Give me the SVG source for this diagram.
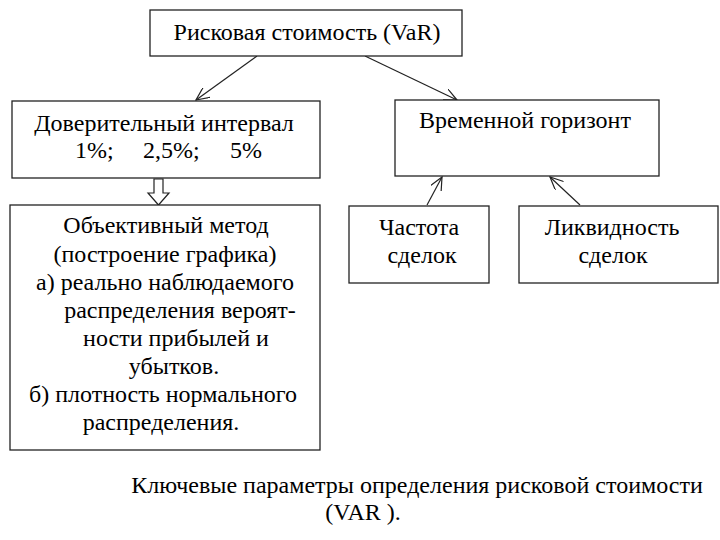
<svg xmlns="http://www.w3.org/2000/svg" width="720" height="540" viewBox="0 0 720 540">
<defs>
<marker id="a" viewBox="0 0 14 12" refX="13" refY="6" markerWidth="14" markerHeight="12" markerUnits="userSpaceOnUse" orient="auto">
<path d="M0,0 L13,6 L0,12" fill="none" stroke="#222" stroke-width="1.2"/>
</marker>
</defs>
<rect width="720" height="540" fill="#fff"/>
<g id="connectors" stroke="#222" stroke-width="1.2" fill="none">
<line x1="257" y1="56" x2="196" y2="100" marker-end="url(#a)"/>
<line x1="365" y1="56" x2="457" y2="100" marker-end="url(#a)"/>
<line x1="427" y1="205" x2="442" y2="177" marker-end="url(#a)"/>
<line x1="580" y1="205" x2="550" y2="177" marker-end="url(#a)"/>
<path d="M154,179 L163,179 L163,193 L169,193 L158.5,205 L148,193 L154,193 Z"/>
</g>
<g id="node-var">
<rect x="150" y="10" width="312" height="46" fill="#fff" stroke="#222" stroke-width="1.3"/>
<text font-family="Liberation Serif" font-size="24" text-anchor="middle" x="307" y="40">Рисковая стоимость (VaR)</text>
</g>
<g id="node-interval">
<rect x="12" y="101" width="308" height="77" fill="#fff" stroke="#222" stroke-width="1.3"/>
<text font-family="Liberation Serif" font-size="24" text-anchor="middle" x="164" y="131">Доверительный интервал</text>
<text font-family="Liberation Serif" font-size="24" x="75" y="158">1%;</text>
<text font-family="Liberation Serif" font-size="24" x="143" y="158">2,5%;</text>
<text font-family="Liberation Serif" font-size="24" x="230" y="158">5%</text>
</g>
<g id="node-horizon">
<rect x="395" y="100" width="264" height="76" fill="#fff" stroke="#222" stroke-width="1.3"/>
<text font-family="Liberation Serif" font-size="24" text-anchor="middle" x="525" y="128">Временной горизонт</text>
</g>
<g id="node-frequency">
<rect x="349" y="206" width="140" height="77" fill="#fff" stroke="#222" stroke-width="1.3"/>
<text font-family="Liberation Serif" font-size="24" text-anchor="middle" x="419" y="235">Частота</text>
<text font-family="Liberation Serif" font-size="24" text-anchor="middle" x="422" y="263">сделок</text>
</g>
<g id="node-liquidity">
<rect x="519" y="206" width="199" height="77" fill="#fff" stroke="#222" stroke-width="1.3"/>
<text font-family="Liberation Serif" font-size="24" text-anchor="middle" x="612" y="235">Ликвидность</text>
<text font-family="Liberation Serif" font-size="24" text-anchor="middle" x="613" y="263">сделок</text>
</g>
<g id="node-method">
<rect x="10" y="205" width="310" height="245" fill="#fff" stroke="#222" stroke-width="1.3"/>
<text font-family="Liberation Serif" font-size="24" text-anchor="middle" x="166" y="233">Объективный метод</text>
<text font-family="Liberation Serif" font-size="24" text-anchor="middle" x="165" y="262">(построение графика)</text>
<text font-family="Liberation Serif" font-size="24" text-anchor="middle" x="165" y="290">а) реально наблюдаемого</text>
<text font-family="Liberation Serif" font-size="24" text-anchor="middle" x="180" y="318">распределения вероят-</text>
<text font-family="Liberation Serif" font-size="24" text-anchor="middle" x="176" y="346">ности прибылей и</text>
<text font-family="Liberation Serif" font-size="24" text-anchor="middle" x="174" y="374">убытков.</text>
<text font-family="Liberation Serif" font-size="24" text-anchor="middle" x="163" y="402">б) плотность нормального</text>
<text font-family="Liberation Serif" font-size="24" text-anchor="middle" x="161" y="430">распределения.</text>
</g>
<g id="caption">
<text font-family="Liberation Serif" font-size="24" text-anchor="middle" x="417" y="493">Ключевые параметры определения рисковой стоимости</text>
<text font-family="Liberation Serif" font-size="24" text-anchor="middle" x="363" y="520">(VAR ).</text>
</g>
</svg>
